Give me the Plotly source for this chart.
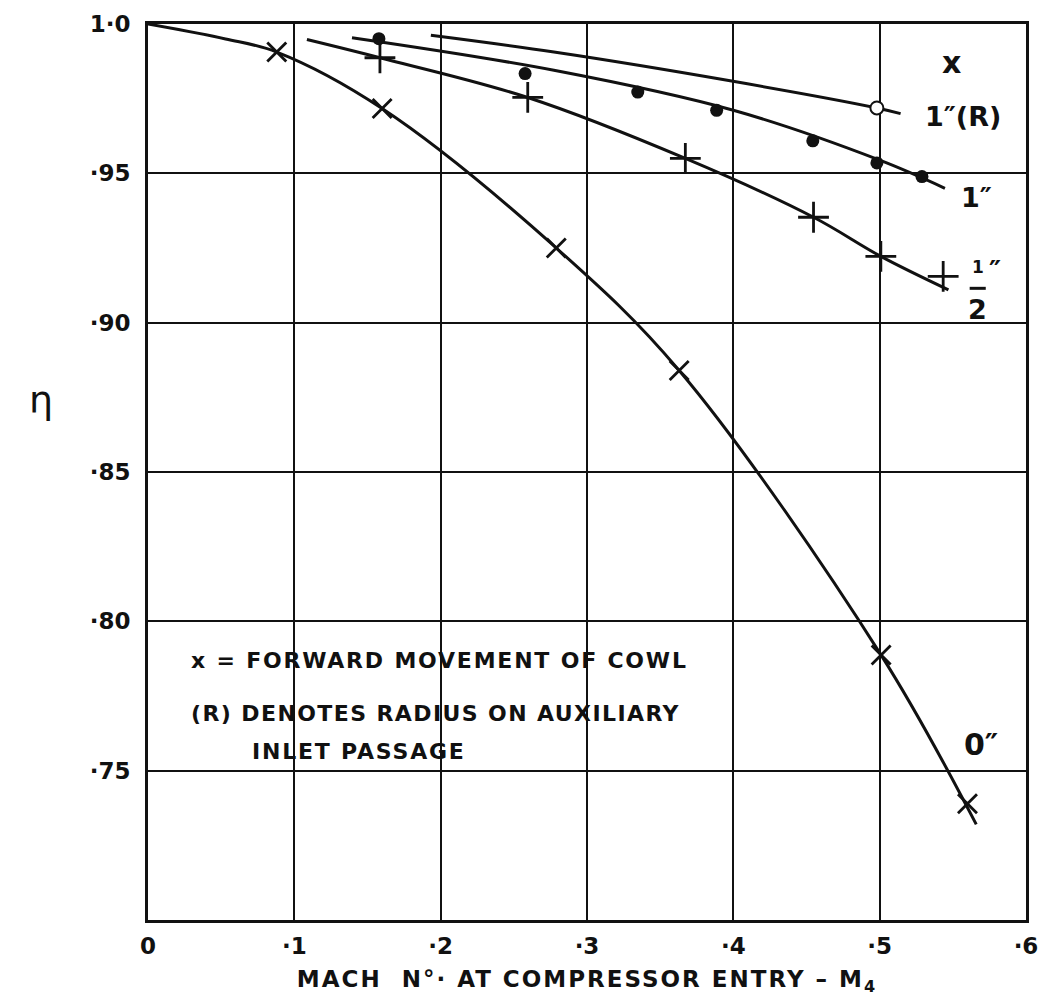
import plotly.graph_objects as go

# ---- data ----
# x = 0" (crosses)
mach_0 = [0.088, 0.160, 0.279, 0.363, 0.501, 0.560]
eta_0 = [0.9906, 0.9717, 0.925, 0.884, 0.7887, 0.7389]
curve0_x = [0.0, 0.053, 0.088, 0.160, 0.279, 0.363, 0.501, 0.566]
curve0_y = [1.0, 0.995, 0.9906, 0.9717, 0.925, 0.884, 0.7887, 0.732]

# x = 1/2" (plus signs)
mach_half = [0.1585, 0.2595, 0.3672, 0.4548, 0.5008, 0.5434]
eta_half = [0.9887, 0.9754, 0.955, 0.9353, 0.9222, 0.9155]
curvehalf_x = [0.1086, 0.1585, 0.2595, 0.3672, 0.4548, 0.5008, 0.547]
curvehalf_y = [0.9948, 0.9887, 0.9754, 0.955, 0.9353, 0.9222, 0.911]

# x = 1" (filled dots)
mach_1 = [0.1578, 0.2577, 0.3347, 0.3886, 0.4543, 0.4981, 0.5289]
eta_1 = [0.9951, 0.9834, 0.9772, 0.9711, 0.9609, 0.9535, 0.9489]
curve1_x = [0.1394, 0.2774, 0.400, 0.500, 0.5446]
curve1_y = [0.9954, 0.9845, 0.9711, 0.9544, 0.945]

# x = 1"(R) (open circle)
mach_1r = [0.4981]
eta_1r = [0.9719]
curve1r_x = [0.1933, 0.2774, 0.3998, 0.4981, 0.5143]
curve1r_y = [0.9962, 0.9906, 0.9808, 0.9719, 0.970]

x_ticks = [0, 0.1, 0.2, 0.3, 0.4, 0.5, 0.6]
x_ticklabels = ["0", "·1", "·2", "·3", "·4", "·5", "·6"]
y_ticks = [0.75, 0.80, 0.85, 0.90, 0.95, 1.0]
y_ticklabels = ["·75", "·80", "·85", "·90", "·95", "1·0"]

FONT = "DejaVu Sans"
BLK = "#111111"

fig = go.Figure()

def curve(xs, ys):
    fig.add_trace(go.Scatter(x=xs, y=ys, mode="lines",
                             line=dict(color=BLK, width=3, shape="spline", smoothing=1.0),
                             hoverinfo="skip", showlegend=False))

curve(curve0_x, curve0_y)
curve(curvehalf_x, curvehalf_y)
curve(curve1_x, curve1_y)
curve(curve1r_x, curve1r_y)

fig.add_trace(go.Scatter(x=mach_0, y=eta_0, mode="markers",
                         marker=dict(symbol="x-thin-open", size=19, color=BLK,
                                     line=dict(color=BLK, width=2.8)),
                         showlegend=False))
fig.add_trace(go.Scatter(x=mach_half, y=eta_half, mode="markers",
                         marker=dict(symbol="cross-thin-open", size=22, color=BLK,
                                     line=dict(color=BLK, width=2.8)),
                         showlegend=False))
fig.add_trace(go.Scatter(x=mach_1, y=eta_1, mode="markers",
                         marker=dict(symbol="circle", size=13, color=BLK, line=dict(width=0)),
                         showlegend=False))
fig.add_trace(go.Scatter(x=mach_1r, y=eta_1r, mode="markers",
                         marker=dict(symbol="circle", size=13, color="white",
                                     line=dict(color=BLK, width=2)),
                         showlegend=False))

ann_font = dict(family=FONT, size=22, color=BLK, weight="bold")
big_font = dict(family=FONT, size=27, color=BLK, weight="bold")

def spaced(text, px):
    return f'<span style="letter-spacing:{px}px">{text}</span>'

def note(text, x, y, font=ann_font, xanchor="left"):
    fig.add_annotation(x=x, y=y, xref="x", yref="y", text=text, showarrow=False,
                       xanchor=xanchor, yanchor="middle", font=font)

note("x", 0.549, 0.987, dict(family=FONT, size=30, color=BLK, weight="bold"), "center")
note("1″(R)", 0.557, 0.969, big_font, "center")
note("1″", 0.566, 0.942, big_font, "center")
note("1", 0.567, 0.9185, dict(family=FONT, size=17, color=BLK, weight="bold"), "center")
note("2", 0.567, 0.9045, big_font, "center")
note("″", 0.5785, 0.9175, big_font, "center")
fig.add_shape(type="line", xref="x", yref="y", x0=0.5615, x1=0.5725, y0=0.9115, y1=0.9115,
              line=dict(color=BLK, width=3))
note("0″", 0.569, 0.7586, dict(family=FONT, size=30, color=BLK, weight="bold"), "center")

note(spaced("x = FORWARD MOVEMENT OF COWL", 1.8), 0.028, 0.787)
note(spaced("(R) DENOTES RADIUS ON AUXILIARY", 1.4), 0.028, 0.769)
note(spaced("INLET PASSAGE", 1.8), 0.070, 0.7565)

# eta label
fig.add_annotation(x=-0.138, y=0.874, xref="x domain", yref="y", text="η", showarrow=False,
                   font=dict(family=FONT, size=38, color=BLK))

axis_common = dict(showgrid=True, gridcolor=BLK, gridwidth=1.7, showline=True, linecolor=BLK,
                   linewidth=2.8, mirror=True, ticks="", zeroline=False,
                   tickfont=dict(family=FONT, size=23, color=BLK, weight="bold"))

fig.update_xaxes(range=[0, 0.6], tickvals=x_ticks, ticktext=x_ticklabels, ticklabelstandoff=3,
                 title=dict(text=spaced("MACH  N°· AT COMPRESSOR ENTRY – M<sub>4</sub>", 2),
                            font=dict(family=FONT, size=23, color=BLK, weight="bold"), standoff=14),
                 **axis_common)
fig.update_yaxes(range=[0.70, 1.0], tickvals=y_ticks, ticktext=y_ticklabels, ticklabelstandoff=10,
                 **axis_common)

fig.update_layout(width=1049, height=1006, plot_bgcolor="white", paper_bgcolor="white",
                  margin=dict(l=148, r=11, t=23, b=86), showlegend=False)

fig.write_html("out.html")
